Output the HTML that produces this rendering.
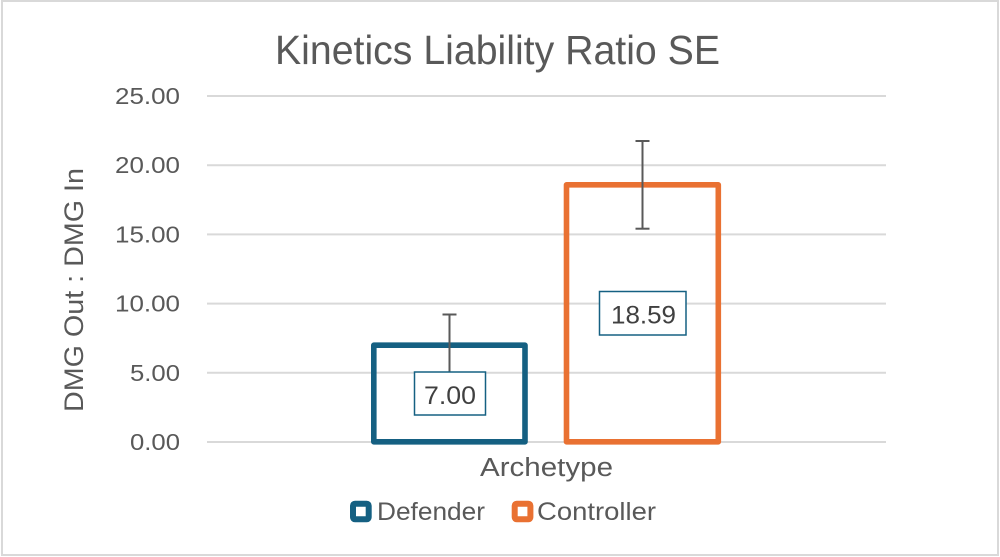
<!DOCTYPE html>
<html><head><meta charset="utf-8"><style>
html,body{margin:0;padding:0;background:#fff;}
svg{display:block;}
text{font-family:"Liberation Sans",sans-serif;}
</style></head><body>
<svg width="1000" height="557" viewBox="0 0 1000 557" xmlns="http://www.w3.org/2000/svg">
<rect x="0" y="0" width="1000" height="557" fill="#fff"/>
<rect x="2" y="1" width="996" height="554" fill="none" stroke="#d9d9d9" stroke-width="2"/>
<text x="275" y="64" font-size="41" fill="#595959" textLength="445" lengthAdjust="spacingAndGlyphs">Kinetics Liability Ratio SE</text>
<g stroke="#d9d9d9" stroke-width="2">
<line x1="207" y1="96" x2="886" y2="96"/>
<line x1="207" y1="165.2" x2="886" y2="165.2"/>
<line x1="207" y1="234.4" x2="886" y2="234.4"/>
<line x1="207" y1="303.6" x2="886" y2="303.6"/>
<line x1="207" y1="372.8" x2="886" y2="372.8"/>
<line x1="207" y1="442" x2="886" y2="442"/>
</g>
<g font-size="23" fill="#595959" text-anchor="end">
<text x="180" y="104" textLength="65" lengthAdjust="spacingAndGlyphs">25.00</text>
<text x="180" y="173.2" textLength="65" lengthAdjust="spacingAndGlyphs">20.00</text>
<text x="180" y="242.4" textLength="65" lengthAdjust="spacingAndGlyphs">15.00</text>
<text x="180" y="311.6" textLength="65" lengthAdjust="spacingAndGlyphs">10.00</text>
<text x="180" y="380.8" textLength="50" lengthAdjust="spacingAndGlyphs">5.00</text>
<text x="180" y="450" textLength="50" lengthAdjust="spacingAndGlyphs">0.00</text>
</g>
<text transform="translate(83,412) rotate(-90)" font-size="27" fill="#595959" textLength="244" lengthAdjust="spacingAndGlyphs">DMG Out : DMG In</text>
<rect x="373.8" y="345.2" width="151.2" height="96.6" fill="none" stroke="#156082" stroke-width="5.6" stroke-linejoin="round"/>
<rect x="566.5" y="184.8" width="151.8" height="257" fill="none" stroke="#E97132" stroke-width="5.6" stroke-linejoin="round"/>
<g stroke="#595959" stroke-width="2" fill="none">
<line x1="449.5" y1="314.5" x2="449.5" y2="376"/>
<line x1="442.5" y1="314.5" x2="456.5" y2="314.5"/>
<line x1="642.5" y1="141" x2="642.5" y2="228.7"/>
<line x1="635.5" y1="141" x2="649.5" y2="141"/>
<line x1="635.5" y1="228.7" x2="649.5" y2="228.7"/>
</g>
<rect x="414.5" y="372" width="71" height="43" fill="#fff" stroke="#156082" stroke-width="1.5"/>
<text x="424" y="404" font-size="25" fill="#404040" textLength="52" lengthAdjust="spacingAndGlyphs">7.00</text>
<rect x="599.5" y="291.5" width="86.5" height="43.5" fill="#fff" stroke="#156082" stroke-width="1.5"/>
<text x="611" y="323.3" font-size="25" fill="#404040" textLength="65" lengthAdjust="spacingAndGlyphs">18.59</text>
<text x="480" y="476" font-size="25.5" fill="#595959" textLength="133" lengthAdjust="spacingAndGlyphs">Archetype</text>
<rect x="353" y="503.7" width="15.7" height="15.6" rx="2" fill="#fff" stroke="#156082" stroke-width="6"/>
<text x="377" y="520" font-size="25" fill="#595959" textLength="108" lengthAdjust="spacingAndGlyphs">Defender</text>
<rect x="514.7" y="503.7" width="15.7" height="15.6" rx="2" fill="#fff" stroke="#E97132" stroke-width="6"/>
<text x="537" y="520" font-size="25" fill="#595959" textLength="119" lengthAdjust="spacingAndGlyphs">Controller</text>
</svg>
</body></html>
